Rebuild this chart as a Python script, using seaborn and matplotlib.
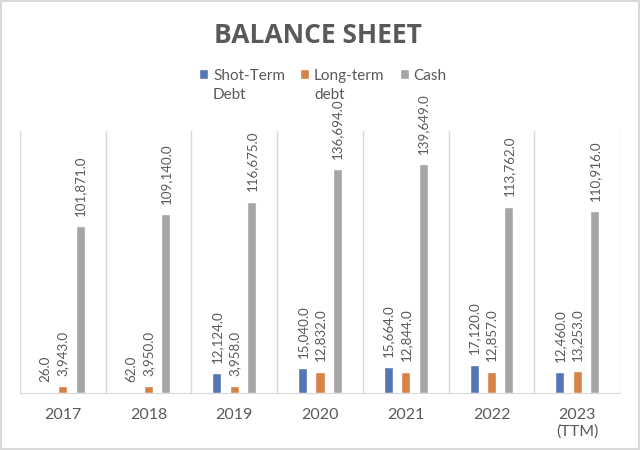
import seaborn as sns
import matplotlib.pyplot as plt
import pandas as pd

# Balance sheet values
years = ["2017", "2018", "2019", "2020", "2021", "2022", "2023\n(TTM)"]
short_term_debt = [26.0, 62.0, 12124.0, 15040.0, 15664.0, 17120.0, 12460.0]
long_term_debt = [3943.0, 3950.0, 3958.0, 12832.0, 12844.0, 12857.0, 13253.0]
cash = [101871.0, 109140.0, 116675.0, 136694.0, 139649.0, 113762.0, 110916.0]
series_names = ["Shot-Term\nDebt", "Long-term\ndebt", "Cash"]
colors = ["#4472C4", "#ED7D31", "#A5A5A5"]

data = pd.DataFrame({
    "Year": years * 3,
    "Series": [series_names[0]] * 7 + [series_names[1]] * 7 + [series_names[2]] * 7,
    "Value": short_term_debt + long_term_debt + cash,
})

sns.set_style("white")
plt.rcParams["font.family"] = ["Lato", "DejaVu Sans"]
text_gray = "#595959"

fig = plt.figure(figsize=(6.4, 4.5), dpi=100, linewidth=1.5, edgecolor="#d9d9d9")
ax = fig.add_axes([0.031, 0.127, 0.938, 0.582])

sns.barplot(
    data=data, x="Year", y="Value", hue="Series",
    palette=colors, width=0.61, gap=0.48, ax=ax, legend=True,
)

for container in ax.containers:
    ax.bar_label(container, labels=[f"{v:,.1f}" for v in container.datavalues],
                 rotation=90, padding=7.5, fontsize=9.6, color=text_gray)

ax.set_ylim(0, 160000)
ax.set_xlim(-0.5, len(years) - 0.5)
ax.set_yticks([])
ax.set_xlabel("")
ax.set_ylabel("")

# vertical gridlines between categories
for b in range(len(years) + 1):
    ax.axvline(b - 0.5, color="#d9d9d9", linewidth=1, zorder=0)

for side in ["top", "left", "right"]:
    ax.spines[side].set_visible(False)
ax.spines["bottom"].set_color("#d9d9d9")
ax.tick_params(axis="x", length=0, pad=11, labelsize=11.5, labelcolor=text_gray)

ax.legend(loc="upper center", bbox_to_anchor=(0.505, 1.235), ncol=3, frameon=False,
          fontsize=11, labelcolor=text_gray, handlelength=0.6, handleheight=0.6,
          handletextpad=0.3, columnspacing=1.0, borderaxespad=0, borderpad=0)
leg = ax.get_legend()
for t in leg.get_texts():
    t.set_linespacing(1.4)
# align legend squares and columns on the first text line
leg._legend_handle_box.align = "top"
for column in leg._legend_handle_box.get_children():
    column.align = "left"
    for item in column.get_children():
        item.align = "top"

fig.text(0.497, 0.922, "BALANCE SHEET", ha="center", va="center", fontsize=19,
         fontweight="bold", color=text_gray, family=["Open Sans", "DejaVu Sans"])

plt.savefig("out.png", dpi=100, edgecolor=fig.get_edgecolor())
